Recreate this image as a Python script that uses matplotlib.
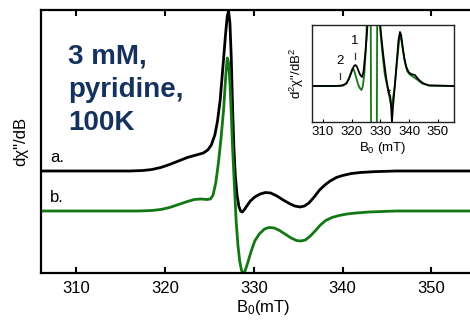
import matplotlib
matplotlib.use("Agg")
import matplotlib.pyplot as plt

plt.rcParams['font.family'] = ['Liberation Sans', 'DejaVu Sans']
plt.rcParams['mathtext.fontset'] = 'custom'
plt.rcParams['mathtext.rm'] = 'Liberation Sans'
plt.rcParams['mathtext.it'] = 'Liberation Sans:italic'

# ---- first-derivative spectra (field in mT, signal in arbitrary units) ----
field_a = [305.9, 316.0, 317.5, 318.5, 319.5, 320.5, 321.5, 322.5, 323.5, 324.3,
           324.8, 325.2, 325.6, 325.9, 326.2, 326.5, 326.8, 327.0, 327.15, 327.3,
           327.45, 327.6, 327.75, 327.9, 328.1, 328.3, 328.5, 328.7, 328.9, 329.2,
           329.6, 330.1, 330.7, 331.3, 331.9, 332.6, 333.3, 334.0, 334.6, 335.2,
           335.7, 336.2, 336.8, 337.4, 338.0, 338.6, 339.3, 340.0, 341.0, 342.0,
           343.5, 346.0, 356.0]
signal_a = [102, 102, 102.5, 103.5, 105.5, 108.5, 112, 115.5, 118, 120,
            123, 128, 138, 152, 173, 205, 238, 257, 262, 250,
            215, 165, 125, 98, 78, 67, 62, 61, 63, 67,
            72, 76, 79, 80.5, 80, 77, 73, 69.5, 67, 66,
            67, 70, 76, 83, 88, 92, 95.5, 97.5, 99.5, 100.5,
            101.3, 102, 102]

field_b = [305.9, 317.0, 318.5, 319.5, 320.5, 321.5, 322.5, 323.3, 324.0, 324.7,
           325.1, 325.4, 325.7, 326.0, 326.3, 326.6, 326.85, 327.0, 327.15, 327.3,
           327.45, 327.6, 327.8, 328.0, 328.2, 328.4, 328.6, 328.8, 329.0, 329.3,
           329.7, 330.1, 330.6, 331.2, 331.7, 332.3, 332.9, 333.5, 334.2, 334.8,
           335.3, 335.8, 336.3, 336.9, 337.5, 338.1, 338.8, 339.6, 340.5, 341.5,
           343.0, 346.0, 356.0]
signal_b = [62, 62, 62.5, 63.5, 65.5, 68.5, 71.5, 73.5, 74, 73.5,
            74, 78, 90, 110, 135, 165, 200, 215, 210, 190,
            160, 125, 88, 52, 28, 12, 3, -1, 2, 10,
            22, 32, 39, 44, 45.5, 45, 42.5, 39, 35, 32.5,
            32, 33, 36.5, 42, 48, 52.5, 55.5, 57.5, 59, 60,
            61, 62, 62]

# ---- second-derivative spectra for the inset ----
field_a2 = [306.2, 314.0, 317.0, 318.3, 319.3, 320.2, 320.8, 321.3, 321.8, 322.4,
            323.0, 323.6, 324.1, 324.6, 325.2, 325.7, 326.5, 328.0, 329.2, 329.9,
            330.5, 331.2, 332.0, 332.6, 333.0, 333.4, 333.8, 334.0, 334.4, 335.0,
            335.8, 336.3, 336.8, 337.2, 337.7, 338.3, 339.0, 339.8, 340.6, 341.3,
            342.0, 342.8, 343.8, 345.0, 347.0, 356.0]
signal_a2 = [0, 0, 0.5, 3, 9, 16, 20, 21, 19.5, 15,
             11, 9, 14, 28, 48, 70, 150, 150, 75, 61,
             44, 26, 8, -2, -8, -10, -24, -36, -20, 0,
             28, 46, 54, 51, 40, 28, 19, 14, 12, 11.5,
             11, 8, 5, 2.5, 0.5, 0]

field_b2 = [306.2, 316.0, 318.0, 319.0, 319.7, 320.2, 320.8, 321.5, 322.2, 322.8,
            323.4, 323.9, 324.4, 324.9, 325.5, 326.4, 326.7, 327.0, 328.5, 328.8,
            329.1, 329.6, 330.0, 330.6, 331.5, 332.5, 333.2, 333.8, 334.2, 335.0,
            335.8, 336.5, 336.9, 337.3, 337.8, 338.5, 339.3, 340.2, 341.0, 342.0,
            343.0, 344.5, 347.0, 356.0]
signal_b2 = [0, 0, 2, 7, 13, 17, 16, 9, 2, -2,
             -4, 0, 12, 35, 80, 300, 0, -300, -300, 0,
             300, 80, 55, 35, 12, -2, -12, -20, -16, 0,
             25, 45, 50, 46, 36, 24, 15, 11.5, 10, 8,
             6, 2.5, 0.5, 0]

field_ticks = [310, 320, 330, 340, 350]
peak_labels = ["2", "1"]
peak_fields = [315.9, 321.2]
peak_heights = [19, 39]

BLACK = "#000000"
GREEN = "#137813"
NAVY = "#15325f"

W, H = 470, 323
fig = plt.figure(figsize=(W / 100, H / 100), dpi=100)

# main axes; its right side runs past the figure edge
x0, x1 = 306.0, 356.0
px_per_mT = 8.87
ax = fig.add_axes([41 / W, 50 / H, (x1 - x0) * px_per_mT / W, 263 / H])
ax.plot(field_a, signal_a, color=BLACK, lw=2.0, solid_joinstyle='round')
ax.plot(field_b, signal_b, color=GREEN, lw=2.0, solid_joinstyle='round')
ax.set_xlim(x0, x1)
ax.set_ylim(0, 263)
ax.set_xticks(field_ticks)
ax.set_yticks([])
ax.tick_params(axis='x', direction='in', top=True, length=4, width=1.5,
               labelsize=12, pad=6)
for s in ax.spines.values():
    s.set_linewidth(1.6)
ax.set_xlabel(r'$\mathregular{B_0}$(mT)', fontsize=12, labelpad=1)
ax.set_ylabel('dχ"/dB', fontsize=12, labelpad=9)

ax.text(307.0, 116, "a.", fontsize=12, va='center', ha='left')
ax.text(307.0, 75, "b.", fontsize=12, va='center', ha='left')
ax.text(309.1, 230, "3 mM,\npyridine,\n100K", fontsize=20, fontweight='bold',
        color=NAVY, va='top', ha='left', linespacing=1.38)

# inset: second derivative
ins = fig.add_axes([312 / W, (H - 122) / H, 142 / W, 97 / H])
ins.plot(field_b2, signal_b2, color=GREEN, lw=1.3)
ins.plot(field_a2, signal_a2, color=BLACK, lw=1.3)
ins.set_xlim(306.2, 355.6)
ins.set_ylim(-36, 61)
ins.set_xticks(field_ticks)
ins.set_yticks([])
ins.tick_params(axis='x', direction='in', length=2, width=0.8,
                labelsize=9.5, pad=3)
for s in ins.spines.values():
    s.set_linewidth(1.0)
    s.set_color("#222222")
ins.set_xlabel(r'$\mathregular{B_0}$ (mT)', fontsize=9.5, labelpad=1)
ins.set_ylabel(r'$\mathregular{d^2}$χ"/dB$\mathregular{^2}$', fontsize=9.5, labelpad=4)
for lab, f, h in zip(peak_labels, peak_fields, peak_heights):
    ins.text(f, h, lab, fontsize=9.5, ha='center', va='bottom')
    ins.plot([f, f], [h - 12, h - 6], color="#333333", lw=0.9)
ins.text(333.0, -12, "*", fontsize=8, ha='center', va='bottom')

fig.savefig("out.png", dpi=100)
